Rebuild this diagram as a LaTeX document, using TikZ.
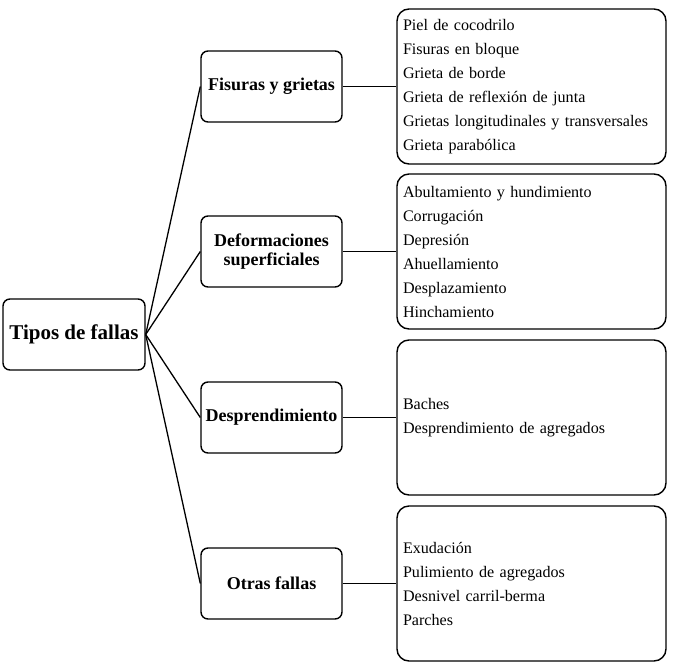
\documentclass[tikz,border=0pt]{standalone}
\usepackage{fontspec}
\setmainfont{Liberation Serif}
\usetikzlibrary{positioning}

\begin{document}
\begin{tikzpicture}[
    x=1pt, y=-1pt,
    every node/.style={inner sep=0pt},
    root/.style={draw, line width=1.4pt, rounded corners=7pt, minimum width=142pt,
                minimum height=71pt, font=\fontsize{21}{22}\selectfont\bfseries},
    cat/.style={draw, line width=1.4pt, rounded corners=7pt, minimum width=141pt,
                minimum height=71pt, align=center,
                font=\fontsize{18}{19.5}\selectfont\bfseries},
    list/.style={draw, line width=1.4pt, rounded corners=12pt, minimum width=269pt,
                minimum height=155pt, text width=257pt, align=left,
                font=\fontsize{16.1}{24}\selectfont},
    conn/.style={line width=1.3pt}
]
    \useasboundingbox (0,0) rectangle (673,665);

    \node[root] (tipos) at (74, 334.5) {Tipos de fallas};

    \node[cat] (fis) at (271.5, 86.5)  {Fisuras y grietas};
    \node[cat] (def) at (271.5, 251.5) {Deformaciones\\superficiales};
    \node[cat] (des) at (271.5, 417.5) {Desprendimiento};
    \node[cat] (otr) at (271.5, 583.5) {Otras fallas};

    \node[list] (lfis) at (531.5, 86.5) {Piel de cocodrilo\\Fisuras en bloque\\Grieta de borde\\
        Grieta de reflexión de junta\\Grietas longitudinales y transversales\\Grieta parabólica};
    \node[list] (ldef) at (531.5, 251.5) {Abultamiento y hundimiento\\Corrugación\\Depresión\\
        Ahuellamiento\\Desplazamiento\\Hinchamiento};
    \node[list] (ldes) at (531.5, 417.5) {Baches\\Desprendimiento de agregados};
    \node[list] (lotr) at (531.5, 583.5) {Exudación\\Pulimiento de agregados\\
        Desnivel carril-berma\\Parches};

    \foreach \c in {fis, def, des, otr}
        \draw[conn] (tipos.east) -- (\c.west);
    \draw[conn] (fis) -- (lfis);
    \draw[conn] (def) -- (ldef);
    \draw[conn] (des) -- (ldes);
    \draw[conn] (otr) -- (lotr);
\end{tikzpicture}
\end{document}
